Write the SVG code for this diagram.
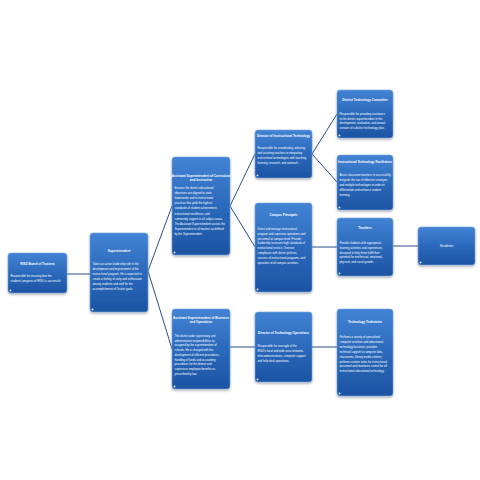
<svg xmlns="http://www.w3.org/2000/svg" width="480" height="480" viewBox="0 0 480 480">
<defs>
<linearGradient id="g" x1="0" y1="0" x2="0" y2="1">
<stop offset="0" stop-color="#4383d4"/>
<stop offset="0.5" stop-color="#2b69bb"/>
<stop offset="1" stop-color="#1c54a2"/>
</linearGradient>
<filter id="sh" x="-20%" y="-20%" width="140%" height="150%">
<feDropShadow dx="0" dy="1.5" stdDeviation="1.2" flood-color="#000" flood-opacity="0.3"/>
</filter>
</defs>
<style>
.box{fill:url(#g);stroke:#7aa6e0;stroke-width:0.6;filter:url(#sh)}
.dot{fill:#ffffff;opacity:0.85}
.h{font-family:"Liberation Sans",Arial,sans-serif;font-size:3.1px;font-weight:bold;fill:#ffffff;text-anchor:middle}
.d{font-family:"Liberation Sans",Arial,sans-serif;font-size:2.8px;fill:#ffffff}
.big{font-family:"Liberation Sans",Arial,sans-serif;font-size:3.4px;fill:#ffffff;text-anchor:middle}
.c line{stroke:#2a4f8a;stroke-width:1}
</style>
<rect width="480" height="480" fill="#ffffff"/>
<g class="c" id="connectors">
<line x1="67" y1="274" x2="90" y2="274"/>
<line x1="148" y1="271" x2="172" y2="206"/>
<line x1="148" y1="271" x2="172" y2="349"/>
<line x1="230" y1="206" x2="255" y2="154"/>
<line x1="230" y1="206" x2="255" y2="247"/>
<line x1="230" y1="347" x2="255" y2="347"/>
<line x1="312" y1="154" x2="337" y2="114"/>
<line x1="312" y1="154" x2="337" y2="182"/>
<line x1="312" y1="247" x2="337" y2="247"/>
<line x1="312" y1="347" x2="337" y2="347"/>
<line x1="393" y1="246" x2="418" y2="246"/>
</g>
<g id="board">
<rect class="box" x="8" y="253" width="59" height="40" rx="3"/>
<circle class="dot" cx="10.5" cy="290.5" r="1"/>
<text class="h" x="37.5" y="265">RISD Board of Trustees</text>
<text class="d" x="10.5" y="277"><tspan x="10.5">Responsible for ensuring that the</tspan><tspan x="10.5" dy="4.6">students' progress of RISD is successful</tspan></text>
</g>
<g id="superintendent">
<rect class="box" x="90" y="233" width="58" height="79" rx="3"/>
<circle class="dot" cx="92.5" cy="309.5" r="1"/>
<text class="h" x="119" y="252">Superintendent</text>
<text class="d" x="92.5" y="265"><tspan x="92.5">Takes an active leadership role in the</tspan><tspan x="92.5" dy="4.9">development and improvement of the</tspan><tspan x="92.5" dy="4.9">instructional program. He is expected to</tspan><tspan x="92.5" dy="4.9">create a feeling of unity and enthusiasm</tspan><tspan x="92.5" dy="4.9">among students and staff for the</tspan><tspan x="92.5" dy="4.9">accomplishment of District goals.</tspan></text>
</g>
<g id="asst-curriculum">
<rect class="box" x="172" y="157" width="58" height="98" rx="3"/>
<circle class="dot" cx="174.5" cy="252.5" r="1"/>
<text class="h" x="201" y="177"><tspan x="201">Assistant Superintendent of Curriculum</tspan><tspan x="201" dy="4.2">and Instruction</tspan></text>
<text class="d" x="174.5" y="189"><tspan x="174.5">Ensures the district educational</tspan><tspan x="174.5" dy="5.1">objectives are aligned to state</tspan><tspan x="174.5" dy="5.1">frameworks and to instructional</tspan><tspan x="174.5" dy="5.1">practices that yield the highest</tspan><tspan x="174.5" dy="5.1">standards of student achievement,</tspan><tspan x="174.5" dy="5.1">instructional excellence, and</tspan><tspan x="174.5" dy="5.1">community support in all subject areas.</tspan><tspan x="174.5" dy="5.1">The Assistant Superintendent assists the</tspan><tspan x="174.5" dy="5.1">Superintendent in all matters as defined</tspan><tspan x="174.5" dy="5.1">by the Superintendent.</tspan></text>
</g>
<g id="asst-business">
<rect class="box" x="172" y="309" width="58" height="80" rx="3"/>
<circle class="dot" cx="174.5" cy="386.5" r="1"/>
<text class="h" x="201" y="319"><tspan x="201">Assistant Superintendent of Business</tspan><tspan x="201" dy="4.2">and Operations</tspan></text>
<text class="d" x="174.5" y="337"><tspan x="174.5">The district-wide supervisory and</tspan><tspan x="174.5" dy="4.7">administrative responsibilities as</tspan><tspan x="174.5" dy="4.7">assigned by the superintendent of</tspan><tspan x="174.5" dy="4.7">schools. He is charged with the</tspan><tspan x="174.5" dy="4.7">development of efficient procedures,</tspan><tspan x="174.5" dy="4.7">handling of funds and accounting</tspan><tspan x="174.5" dy="4.7">procedures for the district and</tspan><tspan x="174.5" dy="4.7">supervises employee benefits as</tspan><tspan x="174.5" dy="4.7">prescribed by law.</tspan></text>
</g>
<g id="dir-instructional-tech">
<rect class="box" x="255" y="130" width="57" height="48" rx="3"/>
<circle class="dot" cx="257.5" cy="175.5" r="1"/>
<text class="h" x="283.5" y="137">Director of Instructional Technology</text>
<text class="d" x="257.5" y="149"><tspan x="257.5">Responsible for coordinating, advising,</tspan><tspan x="257.5" dy="5">and assisting teachers in integrating</tspan><tspan x="257.5" dy="5">instructional technologies with teaching,</tspan><tspan x="257.5" dy="5">learning, research, and outreach.</tspan></text>
</g>
<g id="campus-principals">
<rect class="box" x="255" y="203" width="57" height="89" rx="3"/>
<circle class="dot" cx="257.5" cy="289.5" r="1"/>
<text class="h" x="283.5" y="216">Campus Principals</text>
<text class="d" x="257.5" y="230"><tspan x="257.5">Direct and manage instructional</tspan><tspan x="257.5" dy="4.8">program and supervise operations and</tspan><tspan x="257.5" dy="4.8">personnel at campus level. Provide</tspan><tspan x="257.5" dy="4.8">leadership to ensure high standards of</tspan><tspan x="257.5" dy="4.8">instructional service. Oversee</tspan><tspan x="257.5" dy="4.8">compliance with district policies,</tspan><tspan x="257.5" dy="4.8">success of instructional programs, and</tspan><tspan x="257.5" dy="4.8">operation of all campus activities.</tspan></text>
</g>
<g id="dir-tech-operations">
<rect class="box" x="255" y="312" width="57" height="70" rx="3"/>
<circle class="dot" cx="257.5" cy="379.5" r="1"/>
<text class="h" x="283.5" y="334">Director of Technology Operations</text>
<text class="d" x="257.5" y="347"><tspan x="257.5">Responsible for oversight of the</tspan><tspan x="257.5" dy="5">RISD's local and wide area networks,</tspan><tspan x="257.5" dy="5">telecommunications, computer support</tspan><tspan x="257.5" dy="5">and help desk operations.</tspan></text>
</g>
<g id="district-tech-committee">
<rect class="box" x="337" y="90" width="56" height="48" rx="3"/>
<circle class="dot" cx="339.5" cy="135.5" r="1"/>
<text class="h" x="365" y="101">District Technology Committee</text>
<text class="d" x="339.5" y="115"><tspan x="339.5">Responsible for providing assistance</tspan><tspan x="339.5" dy="4.7">to the district superintendent in the</tspan><tspan x="339.5" dy="4.7">development, evaluation, and annual</tspan><tspan x="339.5" dy="4.7">revision of a district technology plan.</tspan></text>
</g>
<g id="instr-tech-facilitators">
<rect class="box" x="337" y="155" width="56" height="55" rx="3"/>
<circle class="dot" cx="339.5" cy="207.5" r="1"/>
<text class="h" x="365" y="163">Instructional Technology Facilitators</text>
<text class="d" x="339.5" y="176"><tspan x="339.5">Assist classroom teachers in successfully</tspan><tspan x="339.5" dy="5">integrate the use of effective strategies</tspan><tspan x="339.5" dy="5">and multiple technologies in order to</tspan><tspan x="339.5" dy="5">differentiate and enhance student</tspan><tspan x="339.5" dy="5">learning.</tspan></text>
</g>
<g id="teachers">
<rect class="box" x="337" y="218" width="56" height="58" rx="3"/>
<circle class="dot" cx="339.5" cy="273.5" r="1"/>
<text class="h" x="365" y="229">Teachers</text>
<text class="d" x="339.5" y="244"><tspan x="339.5">Provide students with appropriate</tspan><tspan x="339.5" dy="4.8">learning activities and experiences</tspan><tspan x="339.5" dy="4.8">designed to help them fulfill their</tspan><tspan x="339.5" dy="4.8">potential for intellectual, emotional,</tspan><tspan x="339.5" dy="4.8">physical, and social growth.</tspan></text>
</g>
<g id="students">
<rect class="box" x="418" y="227" width="57" height="38" rx="3"/>
<circle class="dot" cx="420.5" cy="262.5" r="1"/>
<text class="big" x="446.5" y="247">Students</text>
</g>
<g id="tech-technician">
<rect class="box" x="337" y="309" width="56" height="87" rx="3"/>
<circle class="dot" cx="339.5" cy="393.5" r="1"/>
<text class="h" x="365" y="323">Technology Technician</text>
<text class="d" x="339.5" y="338"><tspan x="339.5">Performs a variety of specialized</tspan><tspan x="339.5" dy="4.9">computer activities and educational</tspan><tspan x="339.5" dy="4.9">technology functions; provides</tspan><tspan x="339.5" dy="4.9">technical support to computer labs,</tspan><tspan x="339.5" dy="4.9">classrooms, library media centers;</tspan><tspan x="339.5" dy="4.9">performs routine tasks for instructional</tspan><tspan x="339.5" dy="4.9">personnel and maintains control for all</tspan><tspan x="339.5" dy="4.9">instructional educational technology.</tspan></text>
</g>
</svg>
